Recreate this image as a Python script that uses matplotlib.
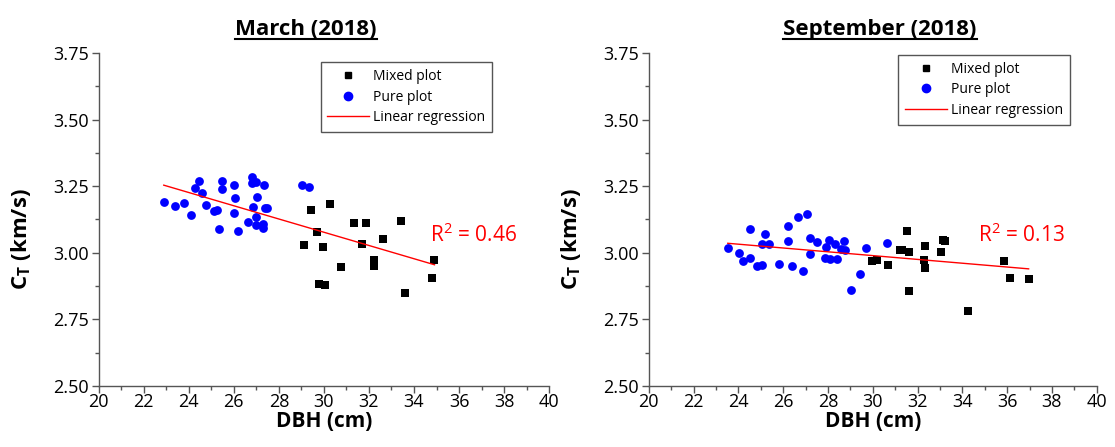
import numpy as np
import matplotlib
matplotlib.use("Agg")
import matplotlib.pyplot as plt
from matplotlib.ticker import MultipleLocator, FormatStrFormatter
from matplotlib.lines import Line2D

plt.rcParams['font.family'] = ['Open Sans', 'DejaVu Sans']
plt.rcParams['mathtext.fontset'] = 'custom'
plt.rcParams['mathtext.rm'] = 'Open Sans'
plt.rcParams['mathtext.bf'] = 'Open Sans:bold'

# March 2018 - DBH (cm) and transverse velocity C_T (km/s)
mar_pure_dbh = [22.89, 23.37, 23.79, 24.10, 24.44, 24.29, 24.58, 24.75, 25.13, 25.25,
                25.33, 25.49, 25.49, 25.99, 26.04, 25.99, 26.18, 26.79, 26.82, 26.97,
                27.34, 27.04, 26.85, 27.39, 27.48, 26.63, 26.98, 26.98, 27.28, 27.29,
                29.04, 29.35]
mar_pure_ct = [3.192, 3.176, 3.186, 3.142, 3.271, 3.244, 3.223, 3.181, 3.157, 3.162,
               3.088, 3.271, 3.238, 3.254, 3.205, 3.150, 3.083, 3.283, 3.261, 3.266,
               3.255, 3.208, 3.173, 3.167, 3.167, 3.117, 3.133, 3.104, 3.108, 3.092,
               3.254, 3.248]
mar_mixed_dbh = [29.42, 30.28, 29.69, 29.13, 29.97, 29.79, 30.03, 30.77, 31.33, 31.88,
                 31.69, 32.23, 32.23, 32.62, 33.43, 33.58, 34.91, 34.82]
mar_mixed_ct = [3.161, 3.183, 3.077, 3.028, 3.021, 2.883, 2.880, 2.947, 3.111, 3.111,
                3.032, 2.973, 2.950, 3.051, 3.118, 2.850, 2.973, 2.904]

# September 2018
sep_pure_dbh = [23.53, 24.02, 24.22, 24.52, 24.52, 24.82, 25.07, 25.06, 25.18, 25.38,
                25.83, 26.22, 26.22, 26.38, 26.67, 27.08, 26.89, 27.19, 27.19, 27.53,
                27.93, 28.04, 27.86, 28.09, 28.39, 28.33, 28.73, 28.60, 28.78, 29.70,
                29.45, 29.03, 30.64]
sep_pure_ct = [3.019, 2.998, 2.969, 2.980, 3.090, 2.950, 2.955, 3.033, 3.072, 3.033,
               2.959, 3.101, 3.044, 2.950, 3.136, 3.145, 2.933, 3.054, 2.995, 3.041,
               3.021, 3.048, 2.982, 2.977, 2.977, 3.033, 3.044, 3.014, 3.012, 3.019,
               2.919, 2.860, 3.038]
sep_mixed_dbh = [29.98, 30.18, 30.68, 31.54, 31.22, 31.32, 31.61, 31.61, 32.35, 32.29,
                 32.35, 33.05, 33.14, 33.21, 34.25, 35.85, 36.12, 36.96]
sep_mixed_ct = [2.970, 2.974, 2.953, 3.083, 3.009, 3.012, 3.003, 2.858, 3.024, 2.973,
                2.942, 3.002, 3.048, 3.043, 2.783, 2.968, 2.905, 2.903]

r2_labels = ['0.46', '0.13']
titles = ['March (2018)', 'September (2018)']
title_x = [0.46, 0.516]
legend_anchor = [(0.874, 0.972), (0.94, 0.995)]

fig = plt.figure(figsize=(11.15, 4.47), dpi=100)
ax1 = fig.add_axes([0.0885, 0.1365, 0.404, 0.745])
ax2 = fig.add_axes([0.5818, 0.1365, 0.4018, 0.745])

panels = [
    (ax1, mar_mixed_dbh, mar_mixed_ct, mar_pure_dbh, mar_pure_ct),
    (ax2, sep_mixed_dbh, sep_mixed_ct, sep_pure_dbh, sep_pure_ct),
]

title_objs = []
for i, (ax, mx, my, px, py) in enumerate(panels):
    ax.scatter(mx, my, marker='s', s=26, color='black', linewidths=0, zorder=3)
    ax.scatter(px, py, marker='o', s=40, color='blue', linewidths=0, zorder=3)

    # linear fit over all trees
    allx = np.array(mx + px)
    ally = np.array(my + py)
    slope, icpt = np.polyfit(allx, ally, 1)
    xs = np.array([allx.min(), allx.max()])
    ax.plot(xs, slope * xs + icpt, color='red', lw=1, zorder=4)

    ax.text(34.7, 3.04, r'R$^2$ = ' + r2_labels[i], color='red', fontsize=15,
            va='baseline', ha='left')

    ax.set_xlim(20, 40)
    ax.set_ylim(2.5, 3.75)
    ax.xaxis.set_major_locator(MultipleLocator(2))
    ax.xaxis.set_minor_locator(MultipleLocator(1))
    ax.yaxis.set_major_locator(MultipleLocator(0.25))
    ax.yaxis.set_minor_locator(MultipleLocator(0.125))
    ax.yaxis.set_major_formatter(FormatStrFormatter('%.2f'))
    for side in ['top', 'right']:
        ax.spines[side].set_visible(False)
    for side in ['left', 'bottom']:
        ax.spines[side].set_color('#555555')
        ax.spines[side].set_linewidth(1.0)
    ax.tick_params(which='major', length=5, width=1, color='#555555', labelsize=13, pad=2)
    ax.tick_params(which='minor', length=3, width=1, color='#555555')
    ax.tick_params(axis='x', which='major', pad=0)
    ax.set_xlabel('DBH (cm)', fontsize=15, fontweight='bold', labelpad=0)
    ax.set_ylabel(r'C$_\mathbf{T}$ (km/s)', fontsize=16, fontweight='bold')
    ax.yaxis.set_label_coords(-0.146, 0.441)

    handles = [
        Line2D([], [], marker='s', color='black', ls='none', markersize=5),
        Line2D([], [], marker='o', color='blue', ls='none', markersize=6),
        Line2D([], [], color='red', lw=1),
    ]
    leg = ax.legend(handles, ['Mixed plot', 'Pure plot', 'Linear regression'],
                    loc='upper right', bbox_to_anchor=legend_anchor[i], borderaxespad=0,
                    fontsize=10, fancybox=False, edgecolor='#555555', framealpha=1,
                    handlelength=3, handletextpad=0.3, borderpad=0.5, labelspacing=0.4)
    leg.get_frame().set_linewidth(1.0)

    t = ax.set_title(titles[i], fontsize=16, fontweight='bold', x=title_x[i], y=1.054, pad=0)
    title_objs.append(t)

# underline the titles
fig.canvas.draw()
renderer = fig.canvas.get_renderer()
inv = fig.transFigure.inverted()
for t in title_objs:
    bb = t.get_window_extent(renderer)
    (x0, y0), (x1, y1) = inv.transform([(bb.x0, bb.y0), (bb.x1, bb.y1)])
    yl = y0 + (y1 - y0) * 0.06
    fig.add_artist(Line2D([x0, x1], [yl, yl], transform=fig.transFigure,
                          color='black', lw=1.5))

fig.savefig('out.png', dpi=100)
